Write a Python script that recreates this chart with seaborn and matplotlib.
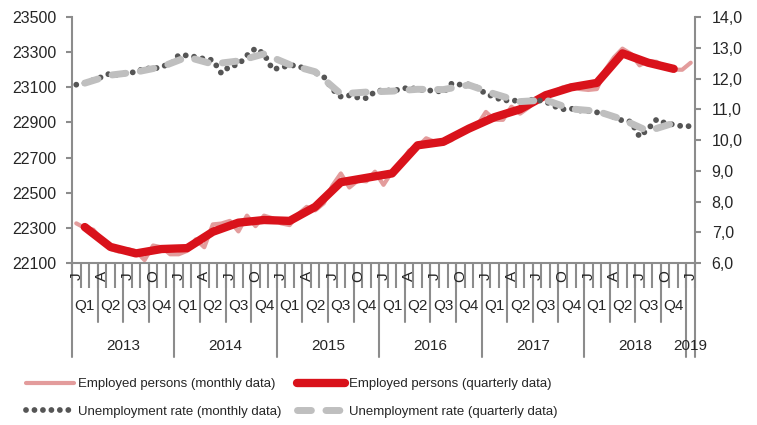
import matplotlib
matplotlib.use("Agg")
import matplotlib.pyplot as plt
import matplotlib.transforms as mtransforms
from matplotlib import font_manager
from matplotlib.ticker import FuncFormatter
import numpy as np
import pandas as pd
import seaborn as sns

sns.set_style("white")
plt.rcParams['font.family'] = ['Liberation Sans', 'DejaVu Sans']

# legend in the original is set in a narrow face
installed = {f.name for f in font_manager.fontManager.ttflist}
if 'Liberation Sans Narrow' in installed:
    leg_family, fs_leg = 'Liberation Sans Narrow', 11
else:
    leg_family, fs_leg = 'Liberation Sans', 9.5
fs_tick, fs_cat = 11.5, 11

years = ['2013', '2014', '2015', '2016', '2017', '2018', '2019']
month_letters = ['J', '', '', 'A', '', '', 'J', '', '', 'O', '', '']
quarter_names = ['Q1', 'Q2', 'Q3', 'Q4']

# employed persons, thousands (left axis), Jan 2013 .. Jan 2019
employed_monthly = [
    22326, 22300, 22290, 22230, 22180, 22165, 22180, 22168, 22117, 22200, 22190, 22150,
    22150, 22170, 22235, 22190, 22320, 22325, 22340, 22280, 22370, 22310, 22370, 22355,
    22326, 22316, 22378, 22420, 22400, 22440, 22540, 22610, 22530, 22570, 22565, 22620,
    22545, 22620, 22665, 22740, 22760, 22810, 22790, 22780, 22800, 22850, 22860, 22885,
    22960, 22915, 22915, 22990, 22950, 22985, 23030, 23060, 23075, 23100, 23110, 23090,
    23085, 23090, 23200, 23270, 23320, 23290, 23225, 23250, 23245, 23215, 23200, 23200,
    23240,
]
# quarterly averages, 2013 Q1 .. 2018 Q4
employed_quarterly = [
    22305, 22192, 22155, 22180, 22185, 22278, 22330, 22345,
    22340, 22420, 22560, 22585, 22610, 22770, 22790, 22865,
    22930, 22975, 23055, 23100, 23125, 23293, 23240, 23205,
]
# unemployment rate, % (right axis)
unemp_monthly = [
    11.8, 11.85, 11.95, 12.05, 12.17, 12.1, 12.2, 12.2, 12.35, 12.3, 12.4, 12.45,
    12.76, 12.75, 12.7, 12.64, 12.6, 12.17, 12.4, 12.45, 12.75, 12.98, 12.8, 12.3,
    12.35, 12.44, 12.4, 12.3, 12.19, 12.06, 11.65, 11.41, 11.45, 11.38, 11.36, 11.57,
    11.63, 11.6, 11.65, 11.71, 11.65, 11.6, 11.62, 11.54, 11.84, 11.8, 11.81, 11.7,
    11.5, 11.4, 11.28, 11.3, 11.25, 11.31, 11.3, 11.25, 11.1, 11.0, 11.02, 10.96,
    10.94, 10.9, 10.85, 10.75, 10.63, 10.6, 10.11, 10.36, 10.67, 10.55, 10.5, 10.45,
    10.45,
]
unemp_quarterly = [
    11.85, 12.11, 12.21, 12.38, 12.7, 12.47, 12.57, 12.8,
    12.45, 12.22, 11.5, 11.56, 11.59, 11.65, 11.64, 11.79,
    11.5, 11.25, 11.3, 11.01, 10.94, 10.67, 10.29, 10.55,
]

n_months = len(employed_monthly)
monthly = pd.DataFrame({'m': np.arange(n_months), 'emp': employed_monthly, 'unemp': unemp_monthly})
quarterly = pd.DataFrame({'m': np.arange(len(employed_quarterly)) * 3 + 1,
                          'emp': employed_quarterly, 'unemp': unemp_quarterly})

RED = '#D9121B'
PINK = '#E39C9C'
LGRAY = '#BFBFBF'
DGRAY = '#555555'
AXC = '#8C8C8C'

fig = plt.figure(figsize=(7.57, 4.25), dpi=100)
ax = fig.add_axes([0.0951, 0.381, 0.823, 0.579])
ax2 = ax.twinx()

sns.lineplot(data=monthly, x='m', y='emp', ax=ax, color=PINK, linewidth=3,
             solid_capstyle='round', solid_joinstyle='round')
sns.lineplot(data=quarterly, x='m', y='emp', ax=ax, color=RED, linewidth=6,
             solid_capstyle='round', solid_joinstyle='round')
sns.lineplot(data=monthly, x='m', y='unemp', ax=ax2, color=DGRAY, linewidth=4.2)
sns.lineplot(data=quarterly, x='m', y='unemp', ax=ax2, color=LGRAY, linewidth=5)

l_emp_m, l_emp_q = ax.lines[0], ax.lines[1]
l_un_m, l_un_q = ax2.lines[0], ax2.lines[1]
l_un_m.set_dashes((0.001, 1.45))
l_un_m.set_dash_capstyle('round')
l_un_q.set_dashes((2.0, 2.1))
l_un_q.set_dash_capstyle('round')
l_un_q.set_dash_joinstyle('round')

ax.set_xlim(-0.5, n_months - 0.5)
ax.set_ylim(22100, 23500)
ax2.set_ylim(6, 14)
ax.set_yticks(np.arange(22100, 23501, 200))
ax2.set_yticks(np.arange(6, 14.01, 1))
ax2.yaxis.set_major_formatter(FuncFormatter(lambda v, p: f'{v:.1f}'.replace('.', ',')))
ax.set_xlabel('')
ax.set_ylabel('')
ax2.set_ylabel('')

for s in ['top', 'right']:
    ax.spines[s].set_visible(False)
for s in ['top', 'left', 'bottom']:
    ax2.spines[s].set_visible(False)
for s in ['left', 'bottom']:
    ax.spines[s].set_color(AXC)
    ax.spines[s].set_linewidth(1.5)
ax2.spines['right'].set_color(AXC)
ax2.spines['right'].set_linewidth(1.5)

ax.tick_params(axis='y', left=True, length=4, width=1.5, color=AXC, pad=7, labelsize=fs_tick)
ax2.tick_params(axis='y', right=True, length=4, width=1.5, color=AXC, pad=8, labelsize=fs_tick)
ax.set_xticks(np.arange(-0.5, n_months, 1))
ax.set_xticklabels([])
ax.tick_params(axis='x', bottom=True, length=18, width=1.5, color=AXC)

trans = mtransforms.blended_transform_factory(ax.transData, ax.transAxes)
# month letters
for i in range(n_months):
    if month_letters[i % 12]:
        ax.text(i, -0.052, month_letters[i % 12], transform=trans, rotation=90,
                ha='center', va='center', fontsize=fs_cat)
# quarter labels and separators
for q in range(len(employed_quarterly)):
    ax.text(q * 3 + 1, -0.176, quarter_names[q % 4], transform=trans,
            ha='center', va='center', fontsize=fs_cat)
    b = q * 3 - 0.5
    if q % 4 != 0:
        ax.plot([b, b], [0, -0.24], transform=trans, color=AXC, lw=1.5, clip_on=False)
# year labels and separators
for k, yr in enumerate(years):
    start = k * 12 - 0.5
    end = min(start + 12, n_months - 0.5)
    ax.text((start + end) / 2, -0.338, yr, transform=trans,
            ha='center', va='center', fontsize=fs_cat)
    ax.plot([start, start], [0, -0.382], transform=trans, color=AXC, lw=1.5, clip_on=False)
ax.plot([n_months - 0.5] * 2, [0, -0.382], transform=trans, color=AXC, lw=1.5, clip_on=False)

fig.legend(handles=[l_emp_m, l_un_m, l_emp_q, l_un_q],
           labels=['Employed persons (monthly data)', 'Unemployment rate (monthly data)',
                   'Employed persons (quarterly data)', 'Unemployment rate (quarterly data)'],
           ncol=2, loc='upper left', bbox_to_anchor=(0.034, 0.11), frameon=False,
           prop={'family': leg_family, 'size': fs_leg},
           handlelength=48 / (fs_leg * 100 / 72), handletextpad=0.3,
           columnspacing=1.2, labelspacing=1.15, borderpad=0, borderaxespad=0)

fig.savefig('out.png', dpi=100)
